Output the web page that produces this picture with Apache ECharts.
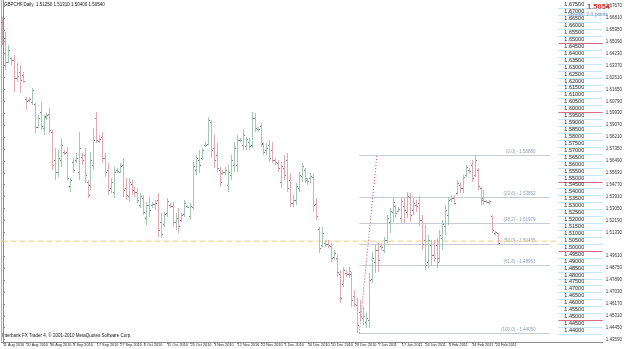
<!DOCTYPE html>
<html>
<head>
<meta charset="utf-8">
<script src="https://cdn.jsdelivr.net/npm/echarts@6/dist/echarts.min.js"></script>
<style>
  html, body { margin: 0; padding: 0; background: #fff; }
  #chart { width: 625px; height: 349px; }
</style>
</head>
<body>
<div id="chart"></div>
<script>
// GBPCHF daily bars, 11 Aug 2010 .. 24 Feb 2011 (Sunday bars included)
const opens = [
  1.6651, 1.6536, 1.6363, 1.6392, 1.6377, 1.6247, 1.6290, 1.6269, 1.6096, 1.6088,
  1.6074, 1.6060, 1.5894, 1.6002, 1.5886, 1.5973, 1.5987, 1.5858, 1.5656, 1.5569,
  1.5656, 1.5713, 1.5713, 1.5468, 1.5641, 1.5656, 1.5569, 1.5677, 1.5692, 1.5497,
  1.5475, 1.5620, 1.5959, 1.5793, 1.5822, 1.5670, 1.5583, 1.5454, 1.5425, 1.5583,
  1.5569, 1.5620, 1.5454, 1.5396, 1.5482, 1.5439, 1.5425, 1.5331, 1.5381, 1.5237,
  1.5331, 1.5331, 1.5338, 1.5367, 1.5208, 1.5194, 1.5273, 1.5331, 1.5324, 1.5208,
  1.5237, 1.5223, 1.5266, 1.5324, 1.5252, 1.5316, 1.5583, 1.5656, 1.5670, 1.5764,
  1.5771, 1.5930, 1.5742, 1.5692, 1.5583, 1.5562, 1.5569, 1.5475, 1.5547, 1.5620,
  1.5620, 1.5800, 1.5764, 1.5757, 1.5785, 1.5764, 1.5959, 1.5879, 1.5901, 1.5771,
  1.5728, 1.5764, 1.5728, 1.5656, 1.5634, 1.5497, 1.5598, 1.5656, 1.5511, 1.5345,
  1.5367, 1.5454, 1.5540, 1.5583, 1.5511, 1.5526, 1.5533, 1.5338, 1.5158, 1.5042,
  1.5057, 1.5050, 1.5035, 1.4956, 1.4949, 1.4833, 1.4761, 1.4840, 1.4833, 1.4833,
  1.4674, 1.4610, 1.4559, 1.4516, 1.4487, 1.4501, 1.4797, 1.4920, 1.5006, 1.5035,
  1.5006, 1.5078, 1.5208, 1.5280, 1.5324, 1.5288, 1.5237, 1.5324, 1.5280, 1.5389,
  1.5295, 1.5331, 1.5345, 1.5223, 1.5078, 1.4920, 1.5042, 1.4970, 1.5042, 1.4949,
  1.5093, 1.5179, 1.5259, 1.5374, 1.5381, 1.5418, 1.5475, 1.5454, 1.5547, 1.5583,
  1.5620, 1.5547, 1.5583, 1.5454, 1.5381, 1.5360, 1.5353, 1.5252, 1.5129, 1.5125
];
const highs = [
  1.6687, 1.6579, 1.6485, 1.6399, 1.6413, 1.6355, 1.6341, 1.6290, 1.6110, 1.6110,
  1.6175, 1.6067, 1.5980, 1.6074, 1.5980, 1.5995, 1.6031, 1.5872, 1.5742, 1.5728,
  1.5814, 1.5728, 1.5749, 1.5526, 1.5670, 1.5706, 1.5858, 1.5706, 1.5742, 1.5511,
  1.5713, 1.5886, 1.6002, 1.5836, 1.5858, 1.5706, 1.5634, 1.5526, 1.5605, 1.5598,
  1.5634, 1.5670, 1.5526, 1.5526, 1.5511, 1.5461, 1.5454, 1.5418, 1.5403, 1.5353,
  1.5389, 1.5353, 1.5367, 1.5418, 1.5273, 1.5280, 1.5381, 1.5345, 1.5353, 1.5273,
  1.5309, 1.5273, 1.5367, 1.5331, 1.5345, 1.5656, 1.5692, 1.5728, 1.5742, 1.5785,
  1.5966, 1.5944, 1.5836, 1.5778, 1.5605, 1.5583, 1.5605, 1.5620, 1.5692, 1.5785,
  1.5836, 1.5814, 1.5872, 1.5822, 1.5814, 1.6002, 1.5995, 1.5894, 1.5923, 1.5785,
  1.5778, 1.5800, 1.5785, 1.5670, 1.5656, 1.5641, 1.5692, 1.5706, 1.5562, 1.5403,
  1.5490, 1.5569, 1.5634, 1.5598, 1.5526, 1.5562, 1.5562, 1.5381, 1.5172, 1.5172,
  1.5078, 1.5078, 1.5057, 1.5006, 1.4970, 1.4862, 1.4884, 1.4862, 1.4884, 1.4848,
  1.4718, 1.4660, 1.4645, 1.4595, 1.4552, 1.4840, 1.4992, 1.5042, 1.5057, 1.5057,
  1.5100, 1.5259, 1.5309, 1.5381, 1.5331, 1.5317, 1.5389, 1.5381, 1.5425, 1.5418,
  1.5381, 1.5367, 1.5396, 1.5259, 1.5187, 1.5114, 1.5078, 1.5078, 1.5093, 1.5151,
  1.5223, 1.5331, 1.5389, 1.5403, 1.5403, 1.5511, 1.5497, 1.5547, 1.5620, 1.5598,
  1.5656, 1.5692, 1.5598, 1.5461, 1.5439, 1.5367, 1.5367, 1.5259, 1.5143, 1.5131
];
const lows = [
  1.6485, 1.6305, 1.6355, 1.6341, 1.6146, 1.6218, 1.6139, 1.6211, 1.6016, 1.6074,
  1.6052, 1.5850, 1.5886, 1.5872, 1.5836, 1.5944, 1.5850, 1.5583, 1.5511, 1.5533,
  1.5605, 1.5692, 1.5511, 1.5425, 1.5562, 1.5634, 1.5511, 1.5620, 1.5490, 1.5381,
  1.5439, 1.5583, 1.5778, 1.5778, 1.5634, 1.5533, 1.5403, 1.5418, 1.5381, 1.5562,
  1.5562, 1.5389, 1.5367, 1.5353, 1.5403, 1.5389, 1.5345, 1.5309, 1.5259, 1.5187,
  1.5244, 1.5309, 1.5295, 1.5100, 1.5093, 1.5172, 1.5244, 1.5309, 1.5172, 1.5151,
  1.5129, 1.5208, 1.5244, 1.5309, 1.5223, 1.5295, 1.5547, 1.5562, 1.5656, 1.5749,
  1.5764, 1.5670, 1.5598, 1.5569, 1.5461, 1.5547, 1.5547, 1.5425, 1.5511, 1.5569,
  1.5569, 1.5785, 1.5728, 1.5728, 1.5728, 1.5742, 1.5858, 1.5858, 1.5749, 1.5692,
  1.5692, 1.5641, 1.5634, 1.5620, 1.5569, 1.5454, 1.5511, 1.5425, 1.5317, 1.5317,
  1.5331, 1.5425, 1.5497, 1.5490, 1.5475, 1.5490, 1.5280, 1.5223, 1.4985, 1.5028,
  1.5028, 1.5021, 1.4920, 1.4934, 1.4811, 1.4624, 1.4739, 1.4811, 1.4804, 1.4595,
  1.4595, 1.4404, 1.4501, 1.4465, 1.4444, 1.4444, 1.4768, 1.4840, 1.4848, 1.5006,
  1.4985, 1.5057, 1.5129, 1.5208, 1.5237, 1.5280, 1.5201, 1.5201, 1.5237, 1.5208,
  1.5259, 1.5280, 1.5180, 1.5006, 1.4862, 1.4876, 1.4898, 1.4920, 1.4876, 1.4920,
  1.5006, 1.5114, 1.5187, 1.5353, 1.5331, 1.5403, 1.5418, 1.5418, 1.5533, 1.5562,
  1.5497, 1.5533, 1.5439, 1.5331, 1.5331, 1.5345, 1.5331, 1.5129, 1.5114, 1.5040
];
const closes = [
  1.6536, 1.6363, 1.6449, 1.6377, 1.6247, 1.6262, 1.6233, 1.6226, 1.6081, 1.6096,
  1.6161, 1.5894, 1.5959, 1.5901, 1.5966, 1.5980, 1.5872, 1.5620, 1.5569, 1.5670,
  1.5764, 1.5706, 1.5526, 1.5511, 1.5583, 1.5670, 1.5742, 1.5656, 1.5547, 1.5403,
  1.5656, 1.5800, 1.5800, 1.5807, 1.5670, 1.5569, 1.5439, 1.5497, 1.5569, 1.5576,
  1.5612, 1.5439, 1.5403, 1.5497, 1.5439, 1.5425, 1.5367, 1.5396, 1.5280, 1.5331,
  1.5295, 1.5338, 1.5345, 1.5151, 1.5122, 1.5266, 1.5360, 1.5324, 1.5208, 1.5237,
  1.5179, 1.5259, 1.5345, 1.5316, 1.5324, 1.5612, 1.5670, 1.5620, 1.5728, 1.5764,
  1.5944, 1.5728, 1.5656, 1.5598, 1.5497, 1.5569, 1.5583, 1.5569, 1.5656, 1.5742,
  1.5800, 1.5800, 1.5836, 1.5807, 1.5757, 1.5959, 1.5886, 1.5879, 1.5778, 1.5713,
  1.5742, 1.5670, 1.5656, 1.5641, 1.5598, 1.5612, 1.5547, 1.5454, 1.5345, 1.5367,
  1.5468, 1.5547, 1.5612, 1.5526, 1.5504, 1.5540, 1.5331, 1.5252, 1.5021, 1.5129,
  1.5050, 1.5042, 1.4949, 1.4985, 1.4848, 1.4660, 1.4862, 1.4833, 1.4855, 1.4645,
  1.4617, 1.4465, 1.4530, 1.4530, 1.4516, 1.4790, 1.4949, 1.5006, 1.4934, 1.5028,
  1.5078, 1.5237, 1.5288, 1.5353, 1.5273, 1.5302, 1.5360, 1.5295, 1.5396, 1.5259,
  1.5345, 1.5324, 1.5223, 1.5050, 1.4898, 1.5078, 1.4970, 1.4949, 1.4920, 1.5114,
  1.5194, 1.5295, 1.5367, 1.5381, 1.5345, 1.5490, 1.5454, 1.5533, 1.5605, 1.5576,
  1.5526, 1.5656, 1.5468, 1.5367, 1.5360, 1.5353, 1.5360, 1.5151, 1.5136, 1.5054
];

const dateLabels = [
  '11 Aug 2010', '20 Aug 2010', '30 Aug 2010', '8 Sep 2010', '17 Sep 2010', '27 Sep 2010',
  '6 Oct 2010', '15 Oct 2010', '25 Oct 2010', '3 Nov 2010', '12 Nov 2010', '22 Nov 2010',
  '1 Dec 2010', '10 Dec 2010', '20 Dec 2010', '29 Dec 2010', '7 Jan 2011', '17 Jan 2011',
  '26 Jan 2011', '4 Feb 2011', '14 Feb 2011', '23 Feb 2011'
];
const dateTicks = dateLabels.map((_, k) => k * 8);

// price scale labels on the right edge
const priceTicks = [
  1.6767, 1.6681, 1.6595, 1.6509, 1.6423, 1.6337, 1.6251, 1.6165, 1.6079, 1.5993,
  1.5907, 1.5821, 1.5735, 1.5649, 1.5563, 1.5477, 1.5391, 1.5305, 1.5219, 1.5133,
  1.4961, 1.4875, 1.4789, 1.4703, 1.4617, 1.4531, 1.4445, 1.4359
];

// price ladder indicator (every 50 pips)
const ladderLevels = [
  1.675, 1.670, 1.665, 1.660, 1.655, 1.650, 1.645, 1.640, 1.635, 1.630,
  1.625, 1.620, 1.615, 1.610, 1.605, 1.600, 1.595, 1.590, 1.585, 1.580,
  1.575, 1.570, 1.565, 1.560, 1.555, 1.550, 1.545, 1.540, 1.535, 1.530,
  1.525, 1.520, 1.515, 1.510, 1.505, 1.500, 1.495, 1.490, 1.485, 1.480,
  1.475, 1.470, 1.465, 1.460, 1.455, 1.450, 1.445, 1.440
];

// fibonacci retracement object
const fibPct = [0.0, 23.6, 38.2, 50.0, 61.8, 100.0];
const fibPrices = [1.56880, 1.53852, 1.51979, 1.50465, 1.48951, 1.44050];
const fibAnchors = [[121.5, 1.4405], [127.5, 1.5688]];

const lastPrice = 1.5054;
const hLineLevel = 1.5070;

const bull = '#a3c9b5';
const bear = '#e3aab4';
const tickColor = '#7a7a7a';
const font = 'Liberation Sans, Arial, sans-serif';

const barData = opens.map((o, i) => [i, o, highs[i], lows[i], closes[i]]);

const chart = echarts.init(document.getElementById('chart'));

const renderBar = (params, api) => {
  const i = api.value(0);
  const o = api.coord([i, api.value(1)]);
  const h = api.coord([i, api.value(2)]);
  const l = api.coord([i, api.value(3)]);
  const c = api.coord([i, api.value(4)]);
  const up = api.value(4) >= api.value(1);
  const x = Math.floor(h[0]);
  const top = Math.round(h[1]);
  const bottom = Math.round(l[1]);
  return {
    type: 'group',
    children: [
      { type: 'rect', shape: { x: x, y: top, width: 1, height: Math.max(1, bottom - top) }, style: { fill: up ? bull : bear } },
      { type: 'rect', shape: { x: x - 1, y: Math.round(o[1]), width: 1, height: 1 }, style: { fill: tickColor } },
      { type: 'rect', shape: { x: x + 1, y: Math.round(c[1]), width: 1, height: 1 }, style: { fill: tickColor } }
    ]
  };
};

const renderLadder = (params, api) => {
  const p = api.value(0);
  const a = api.coord([189.4, p]);
  const b = api.coord([204.5, p]);
  const mid = api.coord([194.8, p]);
  const major = Math.abs(p * 20 - Math.round(p * 20)) < 1e-6;
  const y = Math.round(a[1]) + 0.5;
  return {
    type: 'group',
    children: [
      {
        type: 'line',
        shape: { x1: a[0], y1: y, x2: b[0], y2: y },
        style: major ? { stroke: '#d46f80', lineWidth: 1 } : { stroke: '#8ccbe6', lineWidth: 1, lineDash: [1, 1] }
      },
      {
        type: 'text',
        x: mid[0], y: y - 1,
        style: { text: p.toFixed(5), fill: '#222', font: '5.5px ' + font, align: 'center', verticalAlign: 'bottom' }
      }
    ]
  };
};

const renderFib = (params, api) => {
  const pct = api.value(0);
  const p = api.value(1);
  const a = api.coord([fibAnchors[0][0], p]);
  const b = api.coord([186.5, p]);
  const t = api.coord([181.6, p]);
  const y = Math.round(a[1]) + 0.5;
  return {
    type: 'group',
    children: [
      { type: 'line', shape: { x1: a[0], y1: y, x2: b[0], y2: y }, style: { stroke: '#c5ccd4', lineWidth: 1 } },
      {
        type: 'text', x: t[0], y: y - 1,
        style: { text: '(' + pct.toFixed(1) + ') - ' + p.toFixed(5), fill: '#8c9db3', font: '4.5px ' + font, align: 'right', verticalAlign: 'bottom' }
      }
    ]
  };
};

const option = {
  animation: false,
  backgroundColor: '#fff',
  grid: { left: 0, right: 15, top: 0, bottom: 7 },
  xAxis: {
    type: 'value',
    min: -0.5,
    max: 204.5,
    axisLine: { show: true, lineStyle: { color: '#8a8a8a', width: 1 } },
    axisTick: { show: true, length: 2, customValues: dateTicks, lineStyle: { color: '#8a8a8a' } },
    axisLabel: {
      customValues: dateTicks,
      formatter: (v) => dateLabels[Math.round(v / 8)] || '',
      align: 'left',
      margin: 1,
      showMinLabel: true,
      hideOverlap: false,
      color: '#222',
      fontSize: 3.8,
      fontFamily: font
    },
    splitLine: { show: false }
  },
  yAxis: [
    {
      type: 'value',
      position: 'right',
      min: 1.4342,
      max: 1.681,
      axisLine: { show: true, lineStyle: { color: '#8a8a8a', width: 1 } },
      axisTick: { show: true, length: 2, customValues: priceTicks, lineStyle: { color: '#8a8a8a' } },
      axisLabel: {
        customValues: priceTicks,
        formatter: (v) => v.toFixed(5),
        margin: 3,
        color: '#333',
        fontSize: 4.5,
        fontFamily: font
      },
      splitLine: { show: false }
    },
    {
      type: 'value',
      position: 'left',
      min: 1.4342,
      max: 1.681,
      axisLine: { show: true, lineStyle: { color: '#b0b0b0', width: 1 } },
      axisTick: { show: false },
      axisLabel: { show: false },
      splitLine: { show: false }
    }
  ],
  series: [
    {
      name: 'fib',
      type: 'custom',
      renderItem: renderFib,
      data: fibPct.map((p, k) => [p, fibPrices[k]]),
      encode: { y: 1 },
      silent: true,
      z: 1
    },
    {
      name: 'fibTrend',
      type: 'line',
      data: fibAnchors,
      symbol: 'none',
      lineStyle: { color: '#d2455f', width: 1, type: [1, 2] },
      silent: true,
      z: 2
    },
    {
      name: 'level',
      type: 'line',
      data: [[-0.5, hLineLevel], [189, hLineLevel]],
      symbol: 'none',
      lineStyle: { color: '#e9cf7e', width: 1, type: [6, 3] },
      silent: true,
      z: 3
    },
    {
      name: 'ladder',
      type: 'custom',
      renderItem: renderLadder,
      data: ladderLevels.map((p) => [p]),
      encode: { y: 0 },
      silent: true,
      z: 2
    },
    {
      name: 'GBPCHF',
      type: 'custom',
      renderItem: renderBar,
      data: barData,
      encode: { x: 0, y: [1, 2, 3, 4] },
      z: 5,
      markLine: {
        silent: true,
        symbol: ['none', 'none'],
        lineStyle: { opacity: 0 },
        label: {
          position: 'end',
          distance: 1,
          formatter: lastPrice.toFixed(4),
          color: '#fff',
          backgroundColor: '#000',
          fontSize: 4.5,
          fontFamily: font,
          padding: [1, 2]
        },
        data: [{ yAxis: lastPrice }]
      }
    }
  ],
  graphic: [
    {
      type: 'text', left: 4, top: 2,
      style: { text: 'GBPCHF,Daily  1.51250 1.51310 1.50400 1.50540', font: '4.5px ' + font, fill: '#111' }
    },
    {
      type: 'text', left: 2, top: 333,
      style: { text: 'Interbank FX Trader 4, \u00a9 2001-2010 MetaQuotes Software Corp.', font: '4.5px ' + font, fill: '#111' }
    },
    {
      type: 'text', x: 610, y: 3,
      style: { text: lastPrice.toFixed(4), font: 'bold 7.5px ' + font, fill: '#d42a2a', align: 'right' }
    },
    {
      type: 'text', x: 608, y: 12,
      style: { text: 'Spread: 2.0 points', font: '5px ' + font, fill: '#5a82cc', align: 'right' }
    }
  ]
};

chart.setOption(option);
</script>
</body>
</html>
